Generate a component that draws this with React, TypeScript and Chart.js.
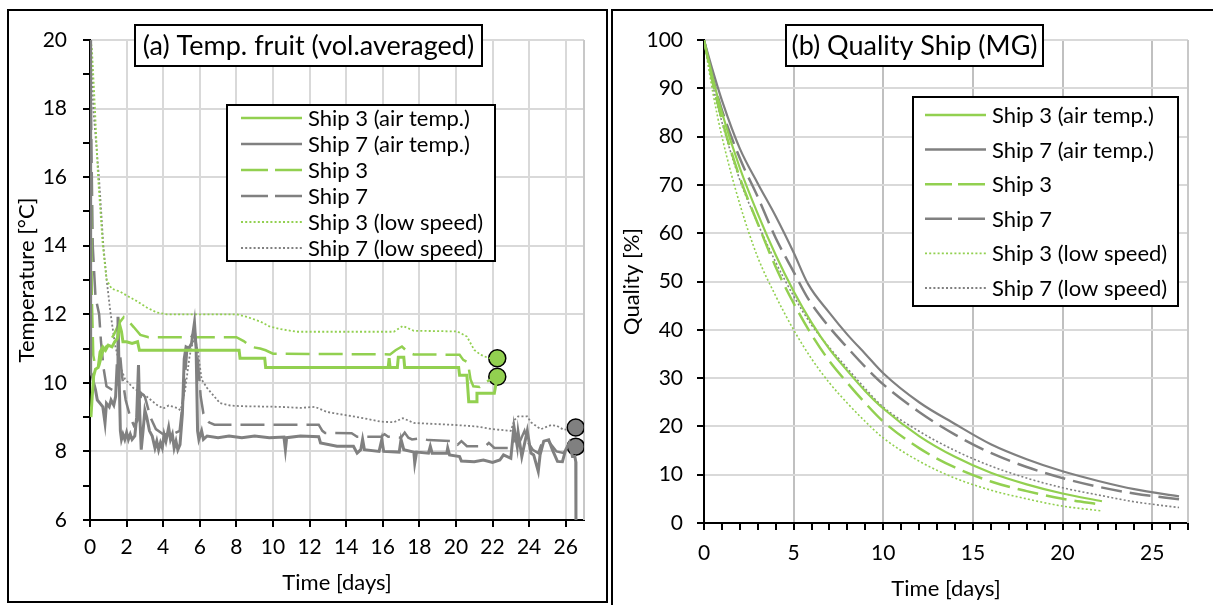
import React, { useEffect, useRef } from 'react';
import { Chart, registerables } from 'chart.js';

Chart.register(...registerables);

const FONT = 'Lato, "Noto Sans", sans-serif';
const GREEN = '#92d050';
const GRAY = '#808080';

// ---------- Panel (a): fruit temperature [°C] vs time [days] ----------
const tempShip3Air: [number, number][] = [
  [0.05, 9.0], [0.12, 9.6], [0.2, 10.2], [0.3, 10.4], [0.45, 10.45], [0.55, 10.9], [0.7, 11.05],
  [0.85, 10.95], [1.0, 11.1], [1.2, 11.05], [1.35, 11.2], [1.5, 11.3], [1.62, 11.7], [1.72, 11.5],
  [1.8, 11.2], [2.0, 11.2], [2.3, 11.15], [2.6, 11.2], [2.7, 10.95], [8.15, 10.95], [8.2, 10.72],
  [9.55, 10.72], [9.6, 10.45], [16.3, 10.45], [16.35, 10.72], [16.4, 10.45], [16.8, 10.45],
  [16.85, 10.75], [17.15, 10.75], [17.2, 10.45], [20.15, 10.45], [20.2, 10.22], [20.6, 10.22],
  [20.7, 9.45], [21.1, 9.45], [21.15, 9.7], [22.1, 9.7], [22.2, 10.0],
];
const tempShip7Air: [number, number][] = [
  [0, 20], [0.02, 12], [0.05, 10.3], [0.12, 10.2], [0.2, 10.0], [0.3, 9.8], [0.4, 9.5], [0.55, 9.4],
  [0.7, 9.3], [0.82, 8.83], [0.9, 9.4], [1.05, 9.3], [1.15, 9.5], [1.3, 9.35], [1.4, 9.6], [1.48, 10.5],
  [1.53, 11.93], [1.6, 10.0], [1.66, 8.6], [1.72, 8.35], [1.8, 8.5], [1.9, 8.35], [2.0, 8.55],
  [2.1, 8.35], [2.2, 8.5], [2.3, 8.35], [2.45, 8.45], [2.55, 9.0], [2.65, 10.52], [2.72, 9.1],
  [2.8, 8.05], [2.9, 8.6], [3.0, 9.2], [3.1, 9.0], [3.25, 8.6], [3.4, 8.45], [3.55, 8.1], [3.65, 8.3],
  [3.75, 8.05], [3.85, 8.25], [3.95, 8.1], [4.05, 8.5], [4.15, 8.3], [4.3, 8.7], [4.4, 8.35],
  [4.5, 8.5], [4.6, 8.1], [4.7, 8.3], [4.8, 8.05], [4.92, 8.2], [5.05, 9.1], [5.15, 10.7],
  [5.25, 11.05], [5.4, 11.0], [5.55, 11.15], [5.71, 11.76], [5.8, 11.0], [5.88, 8.6], [5.95, 8.35],
  [6.1, 8.6], [6.2, 8.35], [6.4, 8.45], [7.0, 8.4], [7.6, 8.45], [8.3, 8.4], [9.0, 8.45], [9.8, 8.4],
  [10.6, 8.42], [10.68, 8.05], [10.75, 8.4], [11.5, 8.45], [12.5, 8.43], [12.6, 8.25], [13.5, 8.15],
  [14.4, 8.15], [14.6, 7.95], [14.8, 8.05], [14.9, 8.35], [15.0, 8.05], [15.8, 8.0], [15.95, 8.35],
  [16.05, 8.0], [16.9, 7.98], [17.0, 8.35], [17.15, 8.05], [17.7, 7.98], [17.75, 7.66], [17.85, 7.98],
  [18.5, 7.95], [18.6, 8.15], [18.7, 7.95], [19.5, 7.95], [19.55, 8.1], [19.65, 7.9], [20.2, 7.85],
  [20.3, 7.72], [21.0, 7.7], [21.5, 7.75], [22.0, 7.68], [22.4, 7.75], [22.6, 7.9], [23.0, 7.8],
  [23.17, 8.73], [23.35, 8.15], [23.4, 8.55], [23.6, 7.85], [23.9, 8.6], [24.1, 7.95], [24.25, 7.9],
  [24.5, 7.42], [24.6, 7.9], [24.8, 8.3], [25.07, 8.34], [25.27, 8.05], [25.55, 7.71], [25.82, 7.7],
  [26.0, 8.05], [26.2, 8.25], [26.37, 7.85], [26.5, 7.85], [26.55, 7.7], [26.56, 6.0],
];
const tempShip3: [number, number][] = [
  [0, 20], [0.04, 16], [0.1, 12.5], [0.18, 10.8], [0.3, 10.45], [0.5, 10.5], [0.7, 10.9],
  [1.0, 11.15], [1.3, 11.4], [1.6, 11.75], [1.85, 11.92], [2.1, 11.8], [2.4, 11.62], [2.75, 11.4],
  [3.2, 11.33], [8.0, 11.33], [8.4, 11.22], [8.8, 11.05], [9.3, 11.0], [9.6, 10.95], [10.0, 10.85],
  [16.4, 10.83], [16.7, 10.95], [17.05, 11.06], [17.4, 10.88], [17.7, 10.83], [20.2, 10.82],
  [20.4, 10.67], [20.65, 10.6], [20.8, 10.1], [20.95, 9.9], [21.3, 9.88], [21.6, 10.02], [22.26, 10.18],
];
const tempShip7: [number, number][] = [
  [0, 20], [0.05, 18], [0.15, 14], [0.3, 12.5], [0.5, 12], [0.6, 11.2], [0.75, 10.4], [0.9, 9.9],
  [1.2, 9.8], [1.4, 9.75], [1.55, 10.4], [1.65, 10.8], [1.75, 10.2], [1.95, 9.5], [2.2, 9.0],
  [2.4, 8.75], [2.6, 8.9], [2.8, 9.7], [3.0, 9.6], [3.3, 9.0], [3.6, 8.65], [4.0, 8.5], [4.5, 8.5],
  [4.9, 8.6], [5.1, 9.6], [5.3, 10.9], [5.5, 11.3], [5.72, 11.5], [5.9, 10.6], [6.05, 9.6],
  [6.2, 9.1], [6.5, 8.85], [6.8, 8.78], [12.5, 8.78], [12.7, 8.6], [12.85, 8.54], [14.3, 8.53],
  [14.6, 8.43], [15.9, 8.43], [16.1, 8.5], [16.3, 8.43], [17.0, 8.4], [17.2, 8.55], [17.4, 8.4],
  [17.6, 8.35], [18.0, 8.38], [18.5, 8.33], [19.9, 8.3], [20.1, 8.2], [20.3, 8.3], [20.6, 8.15],
  [21.6, 8.15], [21.8, 8.25], [22.1, 8.1], [23.0, 8.1], [23.2, 8.35], [23.5, 8.3], [23.75, 8.6],
  [23.95, 8.25], [24.2, 8.05], [24.5, 7.95], [24.7, 8.25], [25.0, 8.35], [25.2, 8.2], [25.5, 8.0],
  [25.9, 7.95], [26.1, 8.2], [26.3, 8.15], [26.55, 8.14],
];
const tempShip3Low: [number, number][] = [
  [0, 20], [0.1, 19.8], [0.27, 18], [0.44, 16], [0.7, 14], [0.91, 13], [1.18, 12.75], [1.64, 12.66],
  [2.0, 12.55], [2.5, 12.4], [3.1, 12.2], [3.65, 12.05], [4.2, 12.0], [8.03, 12.0], [8.6, 11.92],
  [9.3, 11.79], [9.8, 11.65], [10.4, 11.57], [11.3, 11.49], [16.6, 11.49], [17.1, 11.66],
  [17.7, 11.52], [20.07, 11.5], [20.6, 11.35], [21.0, 10.96], [21.35, 10.82], [21.8, 10.72], [22.26, 10.72],
];
const tempShip7Low: [number, number][] = [
  [0, 20], [0.05, 19.9], [0.18, 18], [0.49, 16], [0.73, 14], [0.91, 13], [1.13, 12], [1.37, 11.1],
  [1.64, 10.5], [1.92, 10.1], [2.37, 9.85], [3.1, 9.6], [3.65, 9.36], [4.0, 9.25], [4.3, 9.34],
  [4.75, 9.27], [4.95, 9.2], [5.2, 9.8], [5.45, 10.8], [5.7, 11.35], [5.9, 10.9], [6.1, 10.1],
  [6.4, 9.85], [7.1, 9.41], [7.66, 9.34], [8.2, 9.32], [10.4, 9.3], [11.5, 9.27], [12.3, 9.3],
  [12.95, 9.15], [13.3, 9.12], [14.95, 8.97], [15.87, 8.87], [16.6, 8.85], [17.1, 8.97], [17.7, 8.83],
  [19.7, 8.78], [21.1, 8.73], [22.0, 8.65], [23.0, 8.6], [23.2, 8.92], [23.4, 9.02], [23.9, 9.02],
  [24.1, 8.85], [24.5, 8.7], [24.65, 8.65], [25.2, 8.77], [25.5, 8.75], [25.9, 8.63], [26.55, 8.7],
];
const endMarkersShip3: [number, number][] = [[22.26, 10.72], [22.26, 10.18]];
const endMarkersShip7: [number, number][] = [[26.55, 8.7], [26.55, 8.14]];

// ---------- Panel (b): quality [%] vs time [days] ----------
const qualShip3Air: [number, number][] = [
  [0, 100], [0.5, 92], [1, 85], [2, 73.5], [3, 64], [4, 55.5], [5, 48], [6, 41.5], [7, 36], [8, 31.5],
  [9, 27.3], [10, 23.7], [12, 18], [14, 13.7], [16, 10.4], [18, 8], [20, 6.1], [22.2, 4.5],
];
const qualShip7Air: [number, number][] = [
  [0, 100], [0.5, 93.5], [1, 87.5], [2, 77.5], [3, 70.3], [4, 63.5], [5, 56], [5.8, 49.5], [7, 43.5],
  [8, 39], [9, 35], [10, 31], [12, 25], [14, 20.5], [16, 16.3], [18, 13.2], [20, 10.7], [22, 8.7],
  [24, 7], [26.5, 5.5],
];
const qualShip3: [number, number][] = [
  [0, 100], [0.5, 91], [1, 83.5], [2, 71.5], [3, 62], [4, 53], [5, 45.5], [6, 39], [7, 33.5], [8, 29],
  [9, 24.8], [10, 21], [12, 15.5], [14, 11.5], [16, 8.6], [18, 6.6], [20, 5], [22.2, 3.8],
];
const qualShip7: [number, number][] = [
  [0, 100], [0.5, 92], [1, 85.5], [2, 75.5], [3, 67.5], [4, 59], [5, 52], [5.8, 46.5], [7, 40.5],
  [8, 36.3], [9, 32.3], [10, 28.7], [12, 23], [14, 18.3], [16, 14.5], [18, 11.6], [20, 9.3], [22, 7.5],
  [24, 6.1], [26.5, 4.9],
];
const qualShip3Low: [number, number][] = [
  [0, 100], [0.5, 89], [1, 80], [2, 66], [3, 55], [4, 47], [5, 40], [6, 34], [7, 29], [8, 24.8],
  [9, 21], [10, 17.6], [12, 12.8], [14, 9.3], [16, 6.8], [18, 5], [20, 3.5], [22.2, 2.5],
];
const qualShip7Low: [number, number][] = [
  [0, 100], [0.5, 90.5], [1, 83], [2, 71], [3, 62], [4, 54], [5, 47], [6, 41], [7, 36.3], [8, 32],
  [9, 27.8], [10, 24], [12, 19], [14, 15], [16, 11.8], [18, 9.3], [20, 7.3], [22, 5.8], [24, 4.4],
  [26.5, 3.2],
];

const seriesLabels = [
  'Ship 3 (air temp.)', 'Ship 7 (air temp.)', 'Ship 3', 'Ship 7', 'Ship 3 (low speed)', 'Ship 7 (low speed)',
];
const seriesColors = [GREEN, GRAY, GREEN, GRAY, GREEN, GRAY];
const titleA = '(a) Temp. fruit (vol.averaged)';
const titleB = '(b) Quality Ship (MG)';
const xTitle = 'Time [days]';
const yTitleA = 'Temperature [°C]';
const yTitleB = 'Quality [%]';

type Style = { dash: number[]; width: number };
const styleFor = (i: number, dashLen: number[]): Style => {
  if (i < 2) return { dash: [], width: 2.5 };
  if (i < 4) return { dash: dashLen, width: 2.5 };
  return { dash: [2, 2.2], width: 1.8 };
};

const toXY = (arr: [number, number][]) => arr.map(([x, y]) => ({ x, y }));

type Deco = {
  title: string;
  titleBox: [number, number, number, number];
  legendBox: [number, number, number, number];
  legendRowY: number;
  legendRowGap: number;
  sampleX: [number, number];
  textX: number;
  dash: number[];
};

const decoPlugin = (d: Deco) => ({
  id: 'deco',
  beforeDatasetsDraw(chart: any) {
    const { ctx, chartArea } = chart;
    ctx.save();
    ctx.strokeStyle = '#c8c8c8';
    ctx.lineWidth = 2;
    ctx.beginPath();
    ctx.moveTo(chartArea.right, chartArea.top);
    ctx.lineTo(chartArea.right, chartArea.bottom);
    ctx.stroke();
    ctx.restore();
  },
  afterDraw(chart: any) {
    const { ctx } = chart;
    ctx.save();
    const [tx, ty, tw, th] = d.titleBox;
    ctx.fillStyle = '#fff';
    ctx.fillRect(tx, ty, tw, th);
    ctx.strokeStyle = '#000';
    ctx.lineWidth = 2;
    ctx.setLineDash([]);
    ctx.strokeRect(tx, ty, tw, th);
    ctx.fillStyle = '#000';
    ctx.font = `27px ${FONT}`;
    ctx.textAlign = 'center';
    ctx.textBaseline = 'middle';
    ctx.fillText(d.title, tx + tw / 2, ty + th / 2 + 1);
    const [lx, ly, lw, lh] = d.legendBox;
    ctx.fillStyle = '#fff';
    ctx.fillRect(lx, ly, lw, lh);
    ctx.strokeRect(lx, ly, lw, lh);
    ctx.font = `22px ${FONT}`;
    ctx.textAlign = 'left';
    seriesLabels.forEach((lab, i) => {
      const y = d.legendRowY + i * d.legendRowGap;
      const st = styleFor(i, d.dash);
      ctx.strokeStyle = seriesColors[i];
      ctx.lineWidth = st.width;
      ctx.setLineDash(st.dash);
      ctx.beginPath();
      ctx.moveTo(d.sampleX[0], y);
      ctx.lineTo(d.sampleX[1], y);
      ctx.stroke();
      ctx.setLineDash([]);
      ctx.fillStyle = '#000';
      ctx.fillText(lab, d.textX, y + 1);
    });
    ctx.restore();
  },
});

const tickFont = { family: FONT, size: 21 };
const titleFont = { family: FONT, size: 22 };

function makeLineDatasets(series: [number, number][][], dash: number[]) {
  return series.map((s, i) => {
    const st = styleFor(i, dash);
    return {
      label: seriesLabels[i],
      data: toXY(s),
      borderColor: seriesColors[i],
      backgroundColor: seriesColors[i],
      borderWidth: i < 2 ? 3 : st.width,
      borderDash: st.dash,
      pointRadius: 0,
      tension: 0,
      fill: false,
    } as any;
  });
}

function ChartA() {
  const ref = useRef<HTMLCanvasElement>(null);
  useEffect(() => {
    const dash = [24, 9];
    const lines = makeLineDatasets(
      [tempShip3Air, tempShip7Air, tempShip3, tempShip7, tempShip3Low, tempShip7Low], dash);
    const markers = [
      { data: toXY(endMarkersShip3), color: GREEN },
      { data: toXY(endMarkersShip7), color: GRAY },
    ].map((m) => ({
      label: 'end',
      data: m.data,
      showLine: false,
      pointRadius: 8.5,
      pointBackgroundColor: m.color,
      pointBorderColor: '#000',
      pointBorderWidth: 1.5,
      borderColor: m.color,
    }));
    const chart = new Chart(ref.current!, {
      type: 'line',
      data: { datasets: [...lines, ...markers] as any },
      options: {
        animation: false,
        responsive: false,
        layout: { padding: { left: 0, right: 26, top: 40, bottom: 0 } },
        plugins: { legend: { display: false }, tooltip: { enabled: false }, title: { display: false } },
        scales: {
          x: {
            type: 'linear', min: 0, max: 27,
            ticks: { stepSize: 2, includeBounds: false, autoSkip: false, maxRotation: 0, font: tickFont, color: '#000', padding: 8 },
            grid: { color: '#d9d9d9', lineWidth: 2, tickLength: 7, tickColor: '#000', tickWidth: 2 },
            border: { color: '#000', width: 2 },
            title: { display: true, text: xTitle, font: titleFont, color: '#000', padding: { top: 0, bottom: 9 } },
            afterFit: (s: any) => { s.height = 85; },
          },
          y: {
            type: 'linear', min: 6, max: 20,
            ticks: { stepSize: 1, autoSkip: false, font: tickFont, color: '#000', padding: 16,
              callback: (v: any) => (Number(v) % 2 === 0 ? String(v) : '') },
            grid: { color: (c: any) => (c.tick && c.tick.value % 2 === 0 ? '#d9d9d9' : 'rgba(0,0,0,0)'), lineWidth: 2, tickLength: 7, tickColor: '#000', tickWidth: 2 },
            border: { color: '#000', width: 2 },
            title: { display: true, text: yTitleA, font: titleFont, color: '#000', padding: { top: 14, bottom: 0 } },
            afterFit: (s: any) => { s.width = 90; },
          },
        },
      },
      plugins: [decoPlugin({
        title: titleA,
        titleBox: [135, 25, 347, 41],
        legendBox: [227, 105, 268, 156],
        legendRowY: 118,
        legendRowGap: 26,
        sampleX: [241, 302],
        textX: 308,
        dash: [27, 7],
      })],
    } as any);
    return () => chart.destroy();
  }, []);
  return <canvas ref={ref} width={610} height={605} style={{ position: 'absolute', left: 0, top: 0, width: 610, height: 605 }} />;
}

function ChartB() {
  const ref = useRef<HTMLCanvasElement>(null);
  useEffect(() => {
    const dash = [21, 8];
    const lines = makeLineDatasets(
      [qualShip3Air, qualShip7Air, qualShip3, qualShip7, qualShip3Low, qualShip7Low], dash);
    lines.forEach((l: any, i: number) => {
      l.borderWidth = i < 2 ? 2.2 : i < 4 ? 2.5 : 1.6;
      l.cubicInterpolationMode = 'monotone';
    });
    const chart = new Chart(ref.current!, {
      type: 'line',
      data: { datasets: lines as any },
      options: {
        animation: false,
        responsive: false,
        layout: { padding: { left: 0, right: 25, top: 40, bottom: 0 } },
        plugins: { legend: { display: false }, tooltip: { enabled: false }, title: { display: false } },
        scales: {
          x: {
            type: 'linear', min: 0, max: 27,
            ticks: { stepSize: 1, includeBounds: false, autoSkip: false, maxRotation: 0, font: tickFont, color: '#000', padding: 11,
              callback: (v: any) => (Number(v) % 5 === 0 ? String(v) : '') },
            grid: { color: (c: any) => (c.tick && c.tick.value % 5 === 0 ? '#c0c0c0' : 'rgba(0,0,0,0)'), lineWidth: 2, tickLength: 7, tickColor: '#000', tickWidth: 2 },
            border: { color: '#000', width: 2 },
            title: { display: true, text: xTitle, font: titleFont, color: '#000', padding: { top: 0, bottom: 3 } },
            afterFit: (s: any) => { s.height = 82; },
          },
          y: {
            type: 'linear', min: 0, max: 100,
            ticks: { stepSize: 10, autoSkip: false, font: tickFont, color: '#000', padding: 14 },
            grid: { color: '#d9d9d9', lineWidth: 2, tickLength: 7, tickColor: '#000', tickWidth: 2 },
            border: { color: '#000', width: 2 },
            title: { display: true, text: yTitleB, font: titleFont, color: '#000', padding: { top: 9, bottom: 0 } },
            afterFit: (s: any) => { s.width = 94; },
          },
        },
      },
      plugins: [decoPlugin({
        title: titleB,
        titleBox: [176, 25, 257, 41],
        legendBox: [303, 97, 265, 209],
        legendRowY: 115,
        legendRowGap: 34.6,
        sampleX: [315, 376],
        textX: 382,
        dash: [27, 6],
      })],
    } as any);
    return () => chart.destroy();
  }, []);
  return <canvas ref={ref} width={603} height={605} style={{ position: 'absolute', left: 0, top: 0, width: 603, height: 605 }} />;
}

export default function App() {
  return (
    <div style={{ position: 'absolute', left: 0, top: 0, width: 1213, height: 605, background: '#fff', overflow: 'hidden' }}>
      <div style={{ position: 'absolute', left: 0, top: 0, width: 610, height: 605 }}>
        <ChartA />
      </div>
      <div style={{ position: 'absolute', left: 610, top: 0, width: 603, height: 605 }}>
        <ChartB />
      </div>
      <div style={{ position: 'absolute', left: 7, top: 9, width: 601, height: 594, border: '2px solid #000', boxSizing: 'border-box', pointerEvents: 'none' }} />
      <div style={{ position: 'absolute', left: 611, top: 9, width: 700, height: 700, border: '2px solid #000', boxSizing: 'border-box', pointerEvents: 'none' }} />
    </div>
  );
}
